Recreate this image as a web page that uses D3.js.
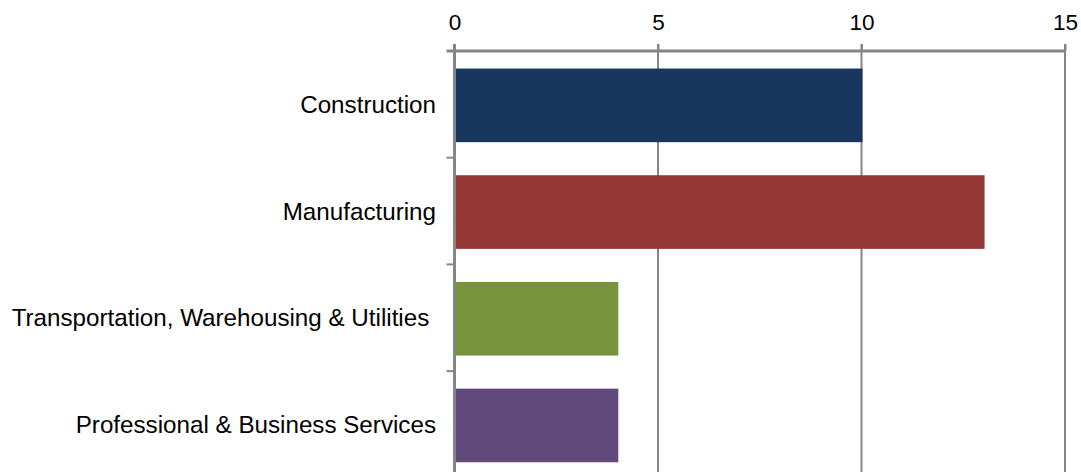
<!DOCTYPE html>
<html>
<head>
<meta charset="utf-8">
<script src="https://cdn.jsdelivr.net/npm/d3@7"></script>
<style>
  html, body { margin: 0; padding: 0; background: #fff; }
  svg text { font-family: "Liberation Sans", Arial, sans-serif; fill: #000; }
</style>
</head>
<body>
<svg id="chart" width="1081" height="472"></svg>
<script>
const categories = ["Construction", "Manufacturing", "Transportation, Warehousing & Utilities ", "Professional & Business Services"];
const values = [10, 13, 4, 4];
const colors = ["#17375E", "#953735", "#77933C", "#604A7B"];
const tickValues = [0, 5, 10, 15];

(function () {
const svg = d3.select("#chart");
const pLeft = 454.5, pRight = 1065, pTop = 51, step = 106.7;
const pBottom = pTop + step * categories.length;

const x = d3.scaleLinear().domain([0, 15]).range([pLeft, pRight]);
const y = d3.scaleBand().domain(categories).range([pTop + 1, pBottom + 1]).paddingInner(0.31).paddingOuter(0.155);

const gridColor = "#868686";

// vertical gridlines
svg.append("g").selectAll("line").data(tickValues.filter(d => d > 0)).join("line")
  .attr("x1", d => x(d)).attr("x2", d => x(d))
  .attr("y1", pTop - 7).attr("y2", pBottom)
  .attr("stroke", gridColor).attr("stroke-width", 2);

// bars
svg.append("g").selectAll("rect").data(categories).join("rect")
  .attr("x", x(0))
  .attr("y", d => y(d))
  .attr("width", (d, i) => x(values[i]) - x(0) + 1)
  .attr("height", y.bandwidth())
  .attr("fill", (d, i) => colors[i]);

// top axis
const xAxis = d3.axisTop(x).tickValues(tickValues).tickSize(7).tickPadding(14);
const gx = svg.append("g").attr("transform", `translate(0,${pTop})`).call(xAxis);
gx.select(".domain").attr("stroke", gridColor).attr("stroke-width", 3)
  .attr("d", `M${pLeft - 8},0H${pRight}`);
gx.selectAll(".tick line").attr("stroke", gridColor).attr("stroke-width", 2);
gx.selectAll(".tick text").attr("font-size", 22.5).style("font-family", '"Liberation Sans", Arial, sans-serif').attr("fill", "#000");

// left axis line
svg.append("line").attr("x1", pLeft).attr("x2", pLeft).attr("y1", pTop - 7).attr("y2", pBottom)
  .attr("stroke", gridColor).attr("stroke-width", 3);

// category separator ticks
const sepY = d3.range(1, categories.length + 1).map(i => pTop + i * step);
svg.append("g").selectAll("line").data(sepY).join("line")
  .attr("x1", pLeft - 8).attr("x2", pLeft)
  .attr("y1", d => d).attr("y2", d => d)
  .attr("stroke", gridColor).attr("stroke-width", 2);

// category labels
svg.append("g").selectAll("text").data(categories).join("text")
  .attr("x", 436)
  .attr("y", d => pTop + categories.indexOf(d) * step + step / 2)
  .attr("dy", "0.35em")
  .attr("text-anchor", "end")
  .attr("font-size", 24.2)
  .style("white-space", "pre")
  .text(d => d);
})();
</script>
</body>
</html>
